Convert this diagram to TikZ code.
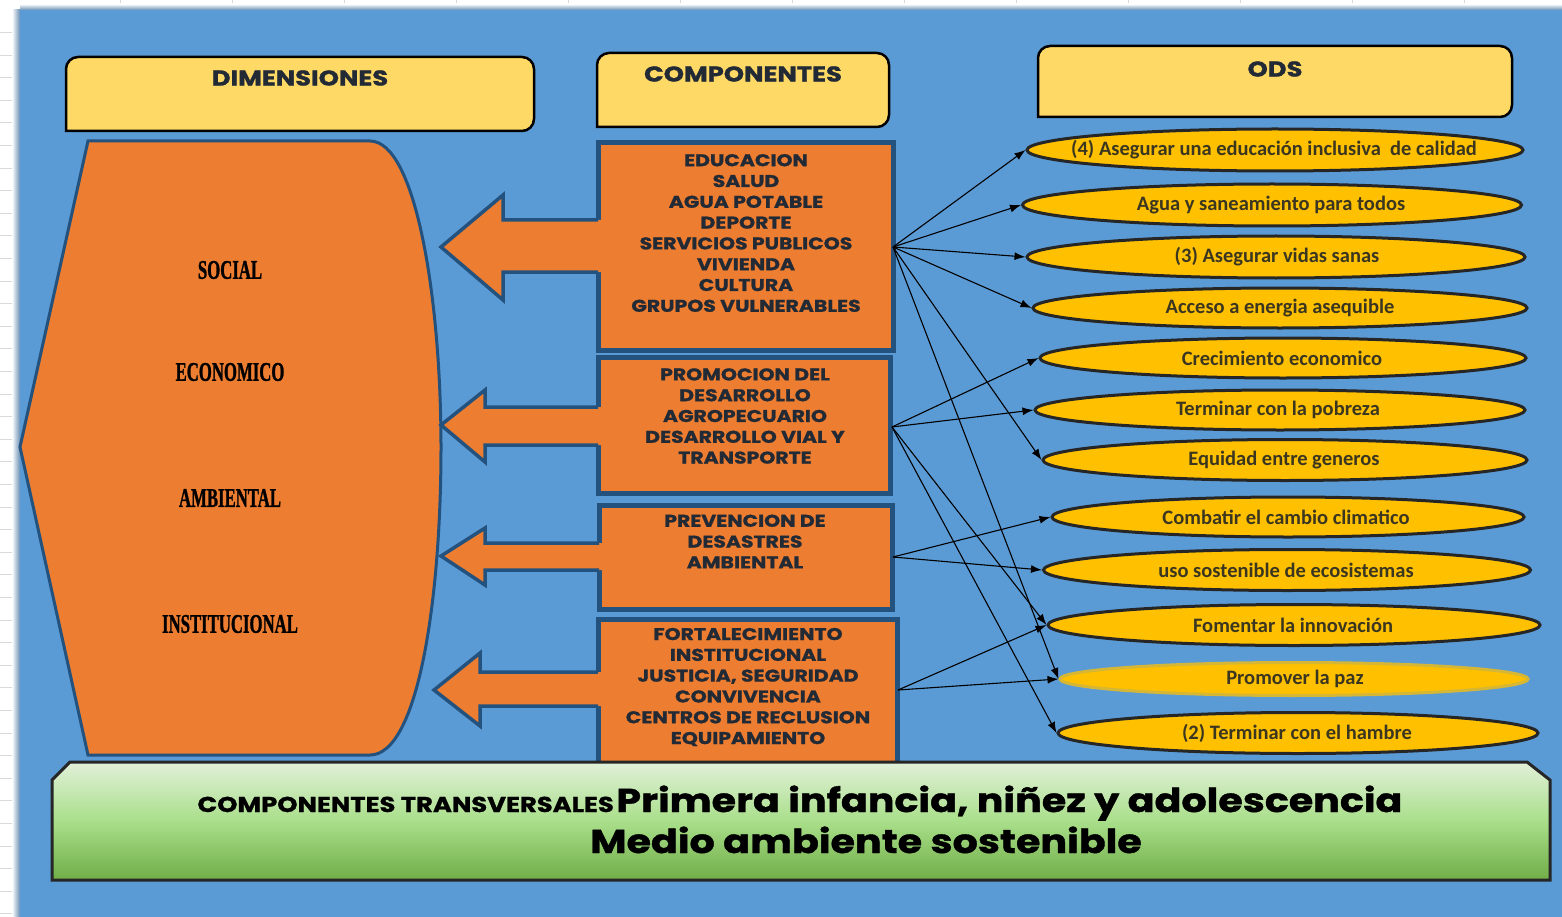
\documentclass[tikz,border=0pt]{standalone}
\usepackage{fontspec}
\setmainfont{Liberation Sans}
\newfontfamily\headfont[FakeStretch=1.2, BoldFeatures={FakeBold=1.2}]{Poppins}
\newfontfamily\dimfont[FakeStretch=0.62, BoldFeatures={FakeBold=1}]{Liberation Serif}
\newfontfamily\odsfont{Carlito}
\usetikzlibrary{arrows.meta,shapes.geometric}
\definecolor{bgblue}{HTML}{5B9BD5}
\definecolor{orng}{HTML}{ED7D31}
\definecolor{dkblue}{HTML}{24527F}
\definecolor{hdrY}{HTML}{FFD966}
\definecolor{odsY}{HTML}{FFC000}
\definecolor{navy}{HTML}{222A35}
\definecolor{odsTxt}{HTML}{3B3620}
\definecolor{gTop}{HTML}{E2F0D9}
\definecolor{gMid}{HTML}{A9DF8A}
\definecolor{gBot}{HTML}{70AD47}
\definecolor{grid}{HTML}{DADADA}
\tikzset{
  hdrbox/.style={draw=black, line width=2.5, fill=hdrY},
  hdrtext/.style={font=\headfont\bfseries\fontsize{21.5}{24}\selectfont, text=navy, inner sep=0},
  compbox/.style={draw=dkblue, line width=5, fill=orng},
  comparrowfill/.style={fill=orng},
  comparrowline/.style={draw=dkblue, line width=3.5, line join=miter},
  comptext/.style={font=\headfont\bfseries\fontsize{17}{20.8}\selectfont, text=navy, align=center, inner sep=0},
  dimshape/.style={draw=dkblue, line width=3, fill=orng},
  dimtext/.style={font=\dimfont\bfseries\fontsize{27}{30}\selectfont, text=black, inner sep=0},
  odsE/.style={ellipse, draw=black!85, line width=3, fill=odsY, inner sep=0},
  odsSoft/.style={ellipse, draw=odsY!75!bgblue, line width=3, fill=odsY, inner sep=0},
  odsT/.style={font=\odsfont\bfseries\fontsize{20.5}{22}\selectfont, text=odsTxt, inner sep=0},
  conn/.style={-{Latex[length=11pt,width=8pt]}, line width=1.1, draw=black},
  transbox/.style={draw=black!85, line width=3, top color=gTop, bottom color=gBot, middle color=gMid},
}
\begin{document}
\begin{tikzpicture}[x=1pt,y=-1pt]
\useasboundingbox (0,0) rectangle (1562,917);
% sheet background with grid
\fill[white] (0,0) rectangle (1562,917);
\foreach \gx in {120,232,344,456,568,680,792,904,1016,1128,1240,1352,1464}
  \draw[grid, line width=0.8] (\gx,0) -- (\gx,10);
\foreach \gy in {32,55,77,100,122,145,168,190,213,235,258,281,303,326,348,371,394,416,439,461,484,507,529,552,574,597,620,642,665,687,710,733,755,778,800,823,846,868,891,913}
  \draw[grid, line width=0.8] (0,\gy) -- (18,\gy);
\shade[left color=white, right color=bgblue!60!gray] (12,10) rectangle (20,917);
\shade[top color=white, bottom color=bgblue!60!gray] (20,4) rectangle (1562,10);
\fill[bgblue] (20,10) rectangle (1562,917);

% headers
\draw[hdrbox] (66,131) {[rounded corners=12] -- (66,57) -- (534,57) -- (534,131)} -- cycle;
\node[hdrtext] (hdim) at (300,78) {DIMENSIONES};
\draw[hdrbox] (597,127) {[rounded corners=12] -- (597,53) -- (889,53) -- (889,127)} -- cycle;
\node[hdrtext] (hcomp) at (743,74) {COMPONENTES};
\draw[hdrbox] (1038,117) {[rounded corners=12] -- (1038,46) -- (1512,46) -- (1512,117)} -- cycle;
\node[hdrtext] (hods) at (1275,69) {ODS};

% dimensions shape
\draw[dimshape] (88,141) -- (370,141) .. controls (416,141) and (441,300) .. (441,447)
  .. controls (441,600) and (418,755) .. (370,755) -- (88,755) -- (20,447) -- cycle;
\node[dimtext] (dsoc) at (230,270) {SOCIAL};
\node[dimtext] (deco) at (230,372) {ECONOMICO};
\node[dimtext] (damb) at (230,498) {AMBIENTAL};
\node[dimtext] (dins) at (230,624) {INSTITUCIONAL};

% component boxes with arrows
\draw[compbox] (598,143) rectangle (893,350);
\fill[comparrowfill] (602,220) -- (503,220) -- (503,195) -- (441,247) -- (503,300) -- (503,272) -- (602,272) -- cycle;
\draw[comparrowline] (598,220) -- (503,220) -- (503,195) -- (441,247) -- (503,300) -- (503,272) -- (598,272);

\draw[compbox] (598,357) rectangle (890,493);
\fill[comparrowfill] (602,407) -- (485,407) -- (485,390) -- (441,425) -- (485,462) -- (485,445) -- (602,445) -- cycle;
\draw[comparrowline] (598,407) -- (485,407) -- (485,390) -- (441,425) -- (485,462) -- (485,445) -- (598,445);

\draw[compbox] (599,505) rectangle (892,609);
\fill[comparrowfill] (603,543) -- (485,543) -- (485,528) -- (441,556) -- (485,585) -- (485,570) -- (603,570) -- cycle;
\draw[comparrowline] (599,543) -- (485,543) -- (485,528) -- (441,556) -- (485,585) -- (485,570) -- (599,570);

\draw[compbox] (598,619) rectangle (897,770);
\fill[comparrowfill] (602,672) -- (480,672) -- (480,653) -- (434,690) -- (480,726) -- (480,706) -- (602,706) -- cycle;
\draw[comparrowline] (598,672) -- (480,672) -- (480,653) -- (434,690) -- (480,726) -- (480,706) -- (598,706);

\node[comptext] (c1) at (746,233) {EDUCACION\\SALUD\\AGUA POTABLE\\DEPORTE\\SERVICIOS PUBLICOS\\VIVIENDA\\CULTURA\\GRUPOS VULNERABLES};
\node[comptext] (c2) at (745,416) {PROMOCION DEL\\DESARROLLO\\AGROPECUARIO\\DESARROLLO VIAL Y\\TRANSPORTE};
\node[comptext] (c3) at (745,541.5) {PREVENCION DE\\DESASTRES\\AMBIENTAL};
\node[comptext] (c4) at (748,687) {FORTALECIMIENTO\\INSTITUCIONAL\\JUSTICIA, SEGURIDAD\\CONVIVENCIA\\CENTROS DE RECLUSION\\EQUIPAMIENTO};

\coordinate (s1) at (893,247);
\coordinate (s2) at (892,427);
\coordinate (s3) at (893,557);
\coordinate (s4) at (898,690);

% ODS ellipses
\node[odsE, minimum width=496, minimum height=42] (o1) at (1275,150) {};
\node[odsE, minimum width=499, minimum height=42] (o2) at (1272,205) {};
\node[odsE, minimum width=498, minimum height=42] (o3) at (1276,257) {};
\node[odsE, minimum width=494, minimum height=40] (o4) at (1280,308) {};
\node[odsE, minimum width=486, minimum height=40] (o5) at (1283,358) {};
\node[odsE, minimum width=490, minimum height=40] (o6) at (1280,410) {};
\node[odsE, minimum width=484, minimum height=41] (o7) at (1285,460) {};
\node[odsE, minimum width=472, minimum height=40] (o8) at (1288,517) {};
\node[odsE, minimum width=487, minimum height=41] (o9) at (1287,570) {};
\node[odsE, minimum width=492, minimum height=41] (o10) at (1294,625) {};
\node[odsSoft, minimum width=468, minimum height=33] (o11) at (1294,679) {};
\node[odsE, minimum width=480, minimum height=41] (o12) at (1298,733) {};

\node[odsT] (t1) at (1274,150) {(4) Asegurar una educación inclusiva\ \ de calidad};
\node[odsT] (t2) at (1271,205) {Agua y saneamiento para todos};
\node[odsT] (t3) at (1277,257) {(3) Asegurar vidas sanas};
\node[odsT] (t4) at (1280,308) {Acceso a energia asequible};
\node[odsT] (t5) at (1282,358) {Crecimiento economico};
\node[odsT] (t6) at (1278,410) {Terminar con la pobreza};
\node[odsT] (t7) at (1284,460) {Equidad entre generos};
\node[odsT] (t8) at (1286,517) {Combatir el cambio climatico};
\node[odsT] (t9) at (1286,570) {uso sostenible de ecosistemas};
\node[odsT] (t10) at (1293,625) {Fomentar la innovación};
\node[odsT] (t11) at (1295,679) {Promover la paz};
\node[odsT] (t12) at (1297,733) {(2) Terminar con el hambre};

% connectors
\draw[conn] (s1) -- (o1.west);
\draw[conn] (s1) -- (o2.west);
\draw[conn] (s1) -- (o3.west);
\draw[conn] (s1) -- (o4.west);
\draw[conn] (s1) -- (o7.west);
\draw[conn] (s1) -- (o11.west);
\draw[conn] (s2) -- (o5.west);
\draw[conn] (s2) -- (o6.west);
\draw[conn] (s2) -- (o10.west);
\draw[conn] (s2) -- (o12.west);
\draw[conn] (s3) -- (o8.west);
\draw[conn] (s3) -- (o9.west);
\draw[conn] (s4) -- (o10.west);
\draw[conn] (s4) -- (o11.west);

% transversal components
\draw[transbox] (52,780) -- (70,762) -- (1527,762) -- (1550,780) -- (1550,880) -- (52,880) -- cycle;
\node[anchor=base, inner sep=0, text=black, font=\headfont\bfseries] (tr1) at (800,812)
  {{\fontsize{21.5}{24}\selectfont COMPONENTES TRANSVERSALES}\ {\fontsize{33}{38}\selectfont Primera infancia, niñez y adolescencia}};
\node[anchor=base, inner sep=0, text=black, font=\headfont\bfseries\fontsize{33}{38}\selectfont] (tr2) at (866,853)
  {Medio ambiente sostenible};
\end{tikzpicture}
\end{document}
